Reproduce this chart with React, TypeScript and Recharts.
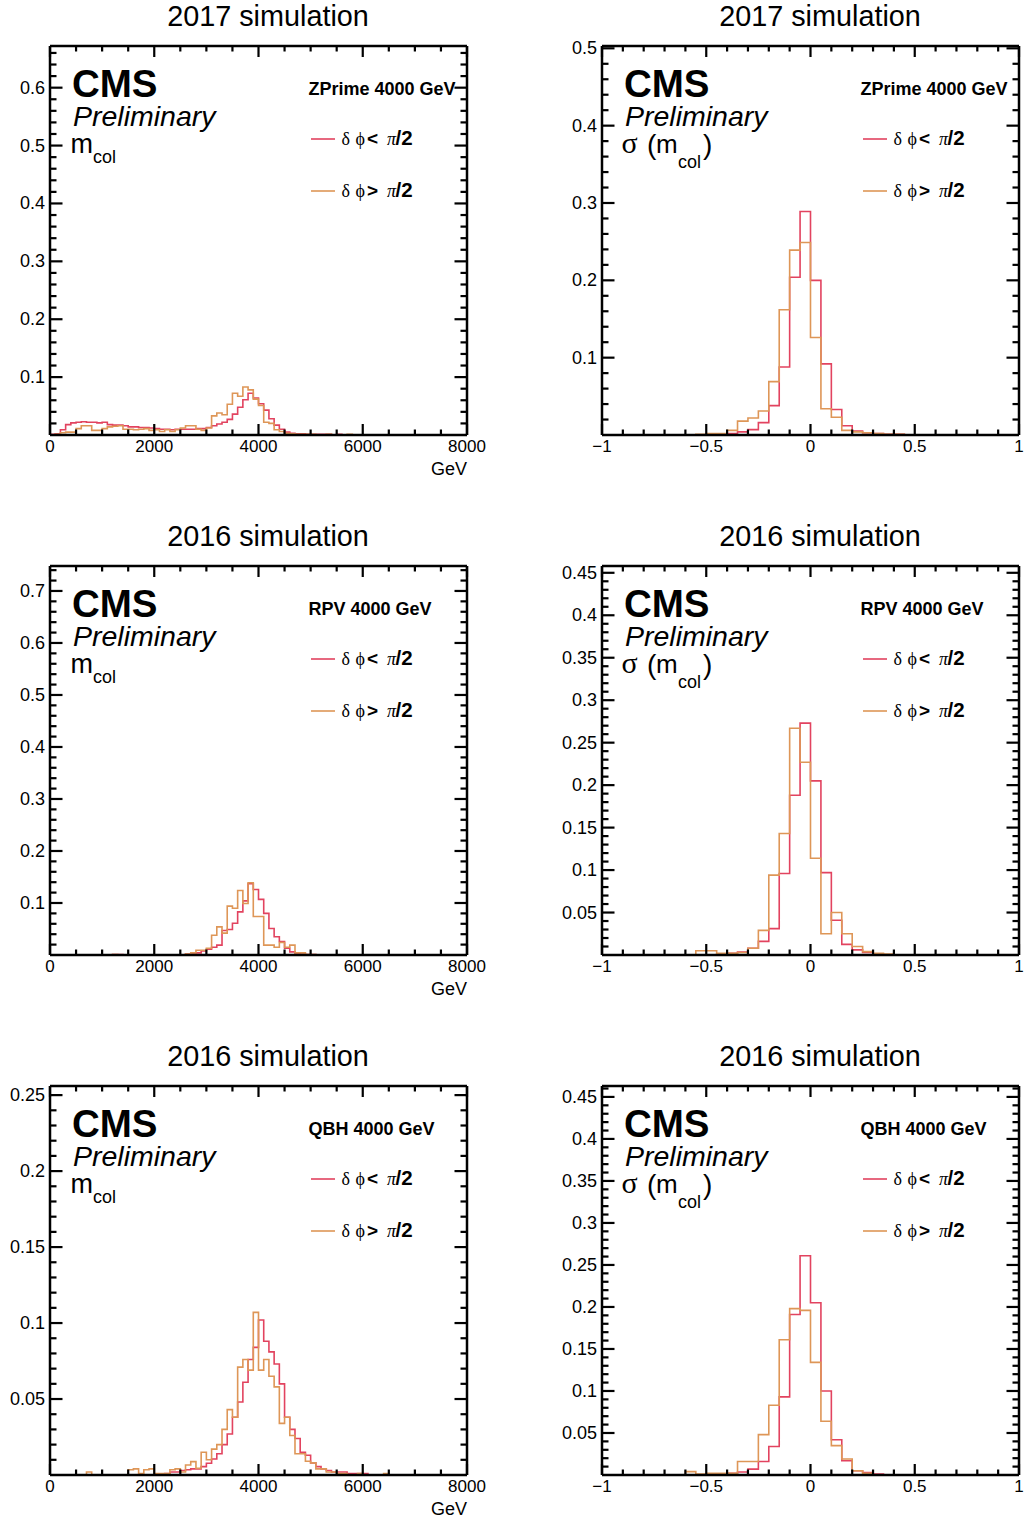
import React from 'react';
import { LineChart, Line, XAxis, YAxis } from 'recharts';

const RED = '#e2435f';
const ORANGE = '#de9657';
const SANS = '"Liberation Sans", Arial, Helvetica, sans-serif';
const SERIF = '"Liberation Serif", "DejaVu Serif", "Times New Roman", serif';

// binning: m_col 0..8000 GeV in 100 GeV bins, resolution -1..1 in 0.05 bins
const MASS_MIN = 0;
const MASS_MAX = 8000;
const MASS_BIN = 100;
const RES_MIN = -1;
const RES_MAX = 1;
const RES_BIN = 0.05;

const titles = ['2017 simulation', '2016 simulation', '2016 simulation'];
const samples = ['ZPrime 4000 GeV', 'RPV 4000 GeV', 'QBH 4000 GeV'];

// ZPrime, m_col (δφ < π/2 and δφ > π/2)
const zprimeMassLt = [
  0.001, 0.002, 0.009, 0.018, 0.021, 0.022, 0.023, 0.022, 0.022, 0.021,
  0.022, 0.018, 0.017, 0.017, 0.016, 0.014, 0.014, 0.013, 0.013, 0.012,
  0.011, 0.010, 0.010, 0.009, 0.010, 0.010, 0.010, 0.010, 0.011, 0.011,
  0.013, 0.016, 0.019, 0.022, 0.027, 0.036, 0.048, 0.061, 0.072, 0.064,
  0.054, 0.043, 0.028, 0.017, 0.010, 0.005, 0.003, 0.002, 0.002, 0.001,
  0.001, 0.001, 0.001, 0.001, 0, 0.001, 0, 0, 0, 0,
  0, 0, 0, 0, 0, 0, 0, 0, 0, 0,
  0, 0, 0, 0, 0, 0, 0, 0, 0, 0,
];
const zprimeMassGt = [
  0, 0.001, 0.004, 0.005, 0.005, 0.011, 0.016, 0.016, 0.008, 0.008,
  0.011, 0.014, 0.015, 0.016, 0.010, 0.010, 0.009, 0.010, 0.011, 0.008,
  0.009, 0.006, 0.009, 0.006, 0.009, 0.012, 0.016, 0.016, 0.010, 0.008,
  0.012, 0.033, 0.038, 0.035, 0.053, 0.072, 0.067, 0.083, 0.078, 0.062,
  0.051, 0.022, 0.020, 0.009, 0.006, 0.003, 0.002, 0.001, 0.001, 0.001,
  0.001, 0, 0, 0.001, 0, 0, 0, 0.001, 0, 0,
  0, 0, 0, 0, 0, 0, 0, 0, 0, 0,
  0, 0, 0, 0, 0, 0, 0, 0, 0, 0,
];

// RPV, m_col
const rpvMassLt = [
  0, 0, 0, 0, 0, 0, 0, 0, 0, 0,
  0, 0, 0.001, 0.001, 0, 0, 0, 0, 0, 0,
  0, 0, 0, 0, 0, 0, 0.002, 0.003, 0.004, 0.008,
  0.011, 0.015, 0.019, 0.047, 0.049, 0.061, 0.083, 0.104, 0.137, 0.126,
  0.107, 0.080, 0.051, 0.035, 0.026, 0.013, 0.006, 0.003, 0.002, 0.001,
  0.001, 0, 0, 0, 0, 0, 0, 0, 0, 0,
  0, 0, 0, 0, 0, 0, 0, 0, 0, 0,
  0, 0, 0, 0, 0, 0, 0, 0, 0, 0,
];
const rpvMassGt = [
  0, 0, 0, 0, 0, 0, 0, 0, 0, 0,
  0, 0, 0.001, 0, 0, 0, 0, 0, 0, 0,
  0, 0, 0, 0, 0, 0, 0.002, 0.004, 0.009, 0.009,
  0.013, 0.038, 0.054, 0.042, 0.094, 0.090, 0.124, 0.099, 0.139, 0.074,
  0.074, 0.019, 0.019, 0.015, 0.024, 0.015, 0.019, 0.004, 0.004, 0.001,
  0.001, 0, 0, 0, 0, 0, 0, 0, 0, 0,
  0, 0, 0, 0, 0, 0, 0, 0, 0, 0,
  0, 0, 0, 0, 0, 0, 0, 0, 0, 0,
];

// QBH, m_col
const qbhMassLt = [
  0, 0, 0, 0, 0, 0, 0, 0, 0, 0,
  0, 0, 0, 0, 0, 0, 0, 0, 0, 0,
  0, 0, 0.001, 0.002, 0.002, 0.003, 0.0035, 0.004, 0.004, 0.0055,
  0.0077, 0.0105, 0.014, 0.020, 0.027, 0.038, 0.048, 0.061, 0.076, 0.084,
  0.102, 0.088, 0.081, 0.073, 0.060, 0.038, 0.030, 0.024, 0.015, 0.013,
  0.008, 0.0055, 0.004, 0.003, 0.002, 0.002, 0.002, 0.001, 0.001, 0.001,
  0.001, 0, 0, 0, 0, 0, 0, 0, 0, 0,
  0, 0, 0, 0, 0, 0, 0, 0, 0, 0,
];
const qbhMassGt = [
  0, 0, 0, 0, 0, 0, 0, 0.002, 0, 0,
  0, 0, 0, 0, 0, 0.0035, 0.004, 0.001, 0.0035, 0.004,
  0.001, 0.001, 0.001, 0.0035, 0.004, 0.002, 0.0066, 0.0088, 0.0044, 0.015,
  0.010, 0.017, 0.020, 0.030, 0.043, 0.038, 0.071, 0.076, 0.069, 0.107,
  0.069, 0.076, 0.065, 0.058, 0.034, 0.038, 0.026, 0.014, 0.014, 0.009,
  0.008, 0.004, 0.004, 0.002, 0.002, 0.001, 0.001, 0, 0, 0.001,
  0, 0, 0, 0, 0.001, 0, 0, 0, 0, 0,
  0, 0, 0, 0, 0, 0, 0, 0, 0, 0,
];

// ZPrime, σ(m_col)
const zprimeResLt = [
  0, 0, 0, 0, 0, 0, 0, 0, 0, 0,
  0.001, 0.001, 0.002, 0.004, 0.007, 0.016, 0.038, 0.088, 0.204, 0.289,
  0.200, 0.092, 0.033, 0.012, 0.005, 0.003, 0.002, 0.001, 0.001, 0,
  0, 0, 0, 0, 0, 0, 0, 0, 0, 0,
];
const zprimeResGt = [
  0, 0, 0, 0, 0, 0, 0, 0, 0, 0.001,
  0.002, 0.002, 0.006, 0.018, 0.022, 0.031, 0.069, 0.162, 0.239, 0.249,
  0.126, 0.034, 0.023, 0.006, 0.004, 0.003, 0.002, 0.001, 0.001, 0,
  0, 0, 0, 0, 0, 0, 0, 0, 0, 0,
];

// RPV, σ(m_col)
const rpvResLt = [
  0, 0, 0, 0, 0, 0, 0, 0, 0, 0,
  0, 0.001, 0.002, 0.0035, 0.008, 0.016, 0.031, 0.096, 0.188, 0.273,
  0.205, 0.097, 0.041, 0.0125, 0.006, 0.003, 0.001, 0, 0, 0,
  0, 0, 0, 0, 0, 0, 0, 0, 0, 0,
];
const rpvResGt = [
  0, 0, 0, 0, 0, 0, 0, 0, 0, 0.005,
  0.005, 0.002, 0.002, 0.003, 0.008, 0.029, 0.094, 0.143, 0.267, 0.227,
  0.114, 0.025, 0.050, 0.025, 0.010, 0.004, 0.002, 0.001, 0, 0,
  0, 0, 0, 0, 0, 0, 0, 0, 0, 0,
];

// QBH, σ(m_col)
const qbhResLt = [
  0, 0, 0, 0, 0, 0, 0, 0, 0, 0,
  0, 0, 0.002, 0.0035, 0.007, 0.016, 0.034, 0.093, 0.191, 0.261,
  0.205, 0.100, 0.042, 0.017, 0.005, 0.003, 0.001, 0, 0, 0,
  0, 0, 0, 0, 0, 0, 0, 0, 0, 0,
];
const qbhResGt = [
  0, 0, 0, 0, 0, 0, 0, 0, 0.004, 0.001,
  0.002, 0.002, 0.002, 0.016, 0.016, 0.048, 0.083, 0.161, 0.198, 0.196,
  0.134, 0.064, 0.035, 0.019, 0.005, 0.002, 0, 0, 0, 0,
  0, 0, 0, 0, 0, 0, 0, 0, 0, 0,
];

// chart box: plot area is 417 x 389 placed at (50, 10) inside it
const CHART_W = 497;
const CHART_H = 439;
const PLOT_L = 50;
const PLOT_T = 10;

function toSteps(lt: number[], gt: number[], min: number, width: number) {
  const pts = lt.map((v, i) => ({ x: +(min + i * width).toFixed(4), lt: v, gt: gt[i] }));
  const n = lt.length;
  pts.push({ x: +(min + n * width).toFixed(4), lt: lt[n - 1], gt: gt[n - 1] });
  return pts;
}

function tickRange(min: number, max: number, step: number) {
  const out: number[] = [];
  const n = Math.floor((max - min) / step + 1e-6);
  for (let i = 0; i <= n; i++) out.push(+(min + i * step).toFixed(4));
  return out;
}

const onStep = (v: number, step: number) => Math.abs(v / step - Math.round(v / step)) < 1e-6;
const fmt = (v: number) => (v < 0 ? '\u2212' + String(-v) : String(v));

const TICK_W = 2.2;

const bottomTick = (major: number) => (p: any) => {
  const v = p.payload.value;
  const big = onStep(v, major);
  return (
    <g>
      <line x1={p.x} x2={p.x} y1={p.y} y2={p.y - (big ? 11 : 5.5)} stroke="#000" strokeWidth={TICK_W} />
      {big && (
        <text x={p.x} y={p.y + 17} textAnchor="middle" fontFamily={SANS} fontSize={17} fill="#000">
          {fmt(v)}
        </text>
      )}
    </g>
  );
};

const topTick = (major: number) => (p: any) => {
  const big = onStep(p.payload.value, major);
  return <line x1={p.x} x2={p.x} y1={p.y} y2={p.y + (big ? 11 : 5.5)} stroke="#000" strokeWidth={TICK_W} />;
};

const leftTick = (major: number) => (p: any) => {
  const v = p.payload.value;
  const big = onStep(v, major);
  return (
    <g>
      <line x1={p.x} x2={p.x + (big ? 12.5 : 6.5)} y1={p.y} y2={p.y} stroke="#000" strokeWidth={TICK_W} />
      {big && (
        <text x={p.x - 5} y={p.y + 6} textAnchor="end" fontFamily={SANS} fontSize={18} fill="#000">
          {fmt(v)}
        </text>
      )}
    </g>
  );
};

const rightTick = (major: number) => (p: any) => {
  const big = onStep(p.payload.value, major);
  return <line x1={p.x} x2={p.x - (big ? 12.5 : 6.5)} y1={p.y} y2={p.y} stroke="#000" strokeWidth={TICK_W} />;
};

interface PanelProps {
  left: number;
  top: number;
  kind: 'mass' | 'res';
  lt: number[];
  gt: number[];
  yMax: number;
  yMajor: number;
  yMinor: number;
}

const Panel: React.FC<PanelProps> = ({ left, top, kind, lt, gt, yMax, yMajor, yMinor }) => {
  const mass = kind === 'mass';
  const data = mass ? toSteps(lt, gt, MASS_MIN, MASS_BIN) : toSteps(lt, gt, RES_MIN, RES_BIN);
  const xDomain = mass ? [MASS_MIN, MASS_MAX] : [RES_MIN, RES_MAX];
  const xMajor = mass ? 2000 : 0.5;
  const xTicks = mass ? tickRange(MASS_MIN, MASS_MAX, 500) : tickRange(RES_MIN, RES_MAX, 0.1);
  const yTicks = tickRange(yMinor, yMax, yMinor);
  const axisLine = { stroke: '#000', strokeWidth: 2.5 };
  const common = {
    type: 'number' as const,
    allowDataOverflow: true,
    interval: 0 as const,
    tickSize: 0,
    tickMargin: 0,
    tickLine: false,
    axisLine,
  };
  return (
    <div style={{ position: 'absolute', left, top }}>
      <LineChart width={CHART_W} height={CHART_H} data={data} margin={{ top: PLOT_T - 1, right: 29, bottom: 0, left: 0 }}>
        <XAxis {...common} dataKey="x" domain={xDomain} ticks={xTicks} height={40} tick={bottomTick(xMajor)} />
        <XAxis
          {...common}
          xAxisId="top"
          orientation="top"
          dataKey="x"
          domain={xDomain}
          ticks={xTicks}
          height={1}
          tick={topTick(xMajor)}
        />
        <YAxis {...common} domain={[0, yMax]} ticks={yTicks} width={PLOT_L} tick={leftTick(yMajor)} />
        <YAxis
          {...common}
          yAxisId="right"
          orientation="right"
          dataKey="lt"
          domain={[0, yMax]}
          ticks={yTicks}
          width={1}
          tick={rightTick(yMajor)}
        />
        <Line type="stepAfter" dataKey="lt" stroke={RED} strokeWidth={1.6} dot={false} isAnimationActive={false} />
        <Line type="stepAfter" dataKey="gt" stroke={ORANGE} strokeWidth={1.6} dot={false} isAnimationActive={false} />
      </LineChart>
    </div>
  );
};

// text decorations, coordinates relative to the frame's top-left corner
const Labels: React.FC<{ fx: number; fy: number; title: string; sample: string; kind: 'mass' | 'res' }> = ({
  fx,
  fy,
  title,
  sample,
  kind,
}) => {
  const legendRow = (y: number, color: string, sign: string) => (
    <g>
      <line x1={261} x2={285} y1={y} y2={y} stroke={color} strokeWidth={1.6} />
      <text y={y + 6} fontFamily={SANS} fontSize={19} fontWeight="bold" fill="#000">
        <tspan x={291.5} fontFamily={SERIF} fontWeight="normal" fontSize={18}>δ</tspan>
        <tspan x={305.5} fontFamily={SERIF} fontWeight="normal" fontSize={18}>ϕ</tspan>
        <tspan x={317}>{sign}</tspan>
        <tspan x={337} fontFamily={SERIF} fontStyle="italic" fontWeight="normal" fontSize={18}>π</tspan>
        <tspan x={345.5} fontSize={20.5}>/2</tspan>
      </text>
    </g>
  );
  return (
    <g transform={`translate(${fx},${fy})`}>
      <text x={218} y={-20} textAnchor="middle" fontFamily={SANS} fontSize={28.8} fill="#000">
        {title}
      </text>
      <text x={22} y={51} fontFamily={SANS} fontSize={38.5} fontWeight="bold" fill="#000">
        CMS
      </text>
      <text x={23} y={79.5} fontFamily={SANS} fontSize={28.5} fontStyle="italic" fill="#000">
        Preliminary
      </text>
      {kind === 'mass' ? (
        <g>
          <text x={20.5} y={107} fontFamily={SANS} fontSize={27} fill="#000">m</text>
          <text x={43} y={117} fontFamily={SANS} fontSize={18} fill="#000">col</text>
          <text x={417} y={429} textAnchor="end" fontFamily={SANS} fontSize={18} fill="#000">GeV</text>
        </g>
      ) : (
        <g>
          <text x={19.5} y={107} fontFamily={SERIF} fontSize={30} fill="#000">σ</text>
          <text x={45} y={108} fontFamily={SANS} fontSize={28} fill="#000">(</text>
          <text x={54} y={107} fontFamily={SANS} fontSize={26} fill="#000">m</text>
          <text x={76} y={122} fontFamily={SANS} fontSize={18} fill="#000">col</text>
          <text x={101} y={108} fontFamily={SANS} fontSize={28} fill="#000">)</text>
        </g>
      )}
      <text x={258.5} y={48.5} fontFamily={SANS} fontSize={18} fontWeight="bold" fill="#000">
        {sample}
      </text>
      {legendRow(93, RED, '<')}
      {legendRow(145, ORANGE, '>')}
    </g>
  );
};

const FRAME_LEFT = [50, 602];
const FRAME_TOP = [46, 566, 1086];

const App: React.FC = () => {
  const massSets = [
    { lt: zprimeMassLt, gt: zprimeMassGt, yMax: 0.672, yMajor: 0.1, yMinor: 0.02 },
    { lt: rpvMassLt, gt: rpvMassGt, yMax: 0.748, yMajor: 0.1, yMinor: 0.02 },
    { lt: qbhMassLt, gt: qbhMassGt, yMax: 0.256, yMajor: 0.05, yMinor: 0.01 },
  ];
  const resSets = [
    { lt: zprimeResLt, gt: zprimeResGt, yMax: 0.503, yMajor: 0.1, yMinor: 0.02 },
    { lt: rpvResLt, gt: rpvResGt, yMax: 0.458, yMajor: 0.05, yMinor: 0.01 },
    { lt: qbhResLt, gt: qbhResGt, yMax: 0.463, yMajor: 0.05, yMinor: 0.01 },
  ];
  return (
    <div style={{ position: 'absolute', left: 0, top: 0, width: 1027, height: 1521, overflow: 'hidden', background: '#fff' }}>
      {FRAME_TOP.map((ft, r) => (
        <React.Fragment key={r}>
          <Panel left={FRAME_LEFT[0] - PLOT_L} top={ft - PLOT_T} kind="mass" {...massSets[r]} />
          <Panel left={FRAME_LEFT[1] - PLOT_L} top={ft - PLOT_T} kind="res" {...resSets[r]} />
        </React.Fragment>
      ))}
      <svg width={1027} height={1521} style={{ position: 'absolute', left: 0, top: 0, pointerEvents: 'none' }}>
        {FRAME_TOP.map((ft, r) => (
          <React.Fragment key={r}>
            <Labels fx={FRAME_LEFT[0]} fy={ft} title={titles[r]} sample={samples[r]} kind="mass" />
            <Labels fx={FRAME_LEFT[1]} fy={ft} title={titles[r]} sample={samples[r]} kind="res" />
          </React.Fragment>
        ))}
      </svg>
    </div>
  );
};

export default App;
